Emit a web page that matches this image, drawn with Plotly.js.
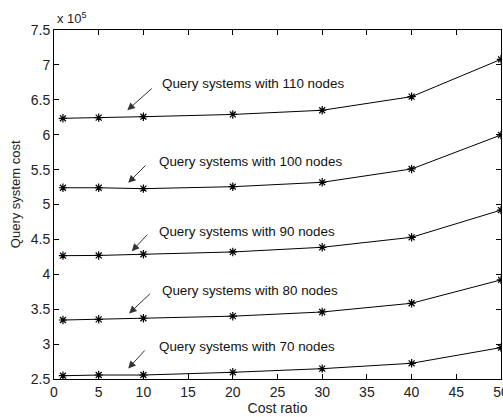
<!DOCTYPE html>
<html>
<head>
<meta charset="utf-8">
<script src="https://cdn.plot.ly/plotly-3.0.1.min.js"></script>
<style>html,body{margin:0;padding:0;background:#fff;overflow:hidden;}#chart{width:503px;height:417px;}</style>
</head>
<body>
<div id="chart"></div>
<script>
// Cost ratio (x) values
const costRatio = [1, 5, 10, 20, 30, 40, 50];
// Query system cost, in units of 10^5
const nodes110 = [6.235, 6.244, 6.258, 6.29, 6.35, 6.545, 7.08];
const nodes100 = [5.24, 5.24, 5.227, 5.255, 5.318, 5.509, 5.996];
const nodes90  = [4.267, 4.27, 4.287, 4.32, 4.387, 4.53, 4.92];
const nodes80  = [3.345, 3.355, 3.37, 3.40, 3.46, 3.585, 3.92];
const nodes70  = [2.547, 2.557, 2.557, 2.596, 2.648, 2.725, 2.95];
const seriesNames = ["110 nodes", "100 nodes", "90 nodes", "80 nodes", "70 nodes"];
const seriesData = [nodes110, nodes100, nodes90, nodes80, nodes70];
const labelTexts = [
  "Query systems with 110 nodes",
  "Query systems with 100 nodes",
  "Query systems with 90 nodes",
  "Query systems with 80 nodes",
  "Query systems with 70 nodes"
];
const xTickVals = [0, 5, 10, 15, 20, 25, 30, 35, 40, 45, 50];
const yTickVals = [2.5, 3, 3.5, 4, 4.5, 5, 5.5, 6, 6.5, 7, 7.5];
const yTickText = ['2.5', '3', '3.5', '4', '4.5', '5', '5.5', '6', '6.5', '7', '7.5'];
// annotation anchor points in data units: [textX, textY, arrowTailX, arrowTailY, arrowHeadX, arrowHeadY]
const labelPos = [
  [11.9, 6.74, 11.1, 6.68, 8.2, 6.35],
  [11.5, 5.61, 10.4, 5.58, 8.3, 5.31],
  [11.5, 4.62, 10.6, 4.59, 8.7, 4.33],
  [11.9, 3.77, 10.9, 3.74, 8.4, 3.44],
  [11.5, 2.96, 10.3, 2.93, 8.3, 2.65]
];

const fontFam = '"Liberation Sans", Arial, sans-serif';
const traces = seriesData.map((ys, i) => ({
  type: 'scatter', mode: 'lines+markers', name: seriesNames[i],
  x: costRatio, y: ys,
  line: {color: '#000', width: 1},
  marker: {symbol: 'asterisk-open', size: 7, color: '#000', line: {color: '#000', width: 1.2}},
  showlegend: false, hoverinfo: 'skip'
}));

const annotations = [];
labelPos.forEach((p, i) => {
  annotations.push({
    x: p[0], y: p[1], xref: 'x', yref: 'y', text: labelTexts[i], showarrow: false,
    xanchor: 'left', yanchor: 'middle', font: {family: fontFam, size: 13.4, color: '#111'}
  });
  annotations.push({
    x: p[4], y: p[5], xref: 'x', yref: 'y', ax: p[2], ay: p[3], axref: 'x', ayref: 'y',
    text: '', showarrow: true, arrowhead: 2, arrowsize: 1.5, arrowwidth: 1, arrowcolor: '#333'
  });
});
annotations.push({
  x: 0, y: 1, xref: 'paper', yref: 'paper', xanchor: 'left', yanchor: 'bottom', yshift: 2, xshift: 1,
  text: 'x 10<sup>5</sup>', showarrow: false, font: {family: fontFam, size: 13, color: '#222'}
});
// y-axis title
annotations.push({
  x: -0.087, y: 0.53, xref: 'paper', yref: 'paper', xanchor: 'center', yanchor: 'middle',
  text: 'Query system cost', textangle: -90, showarrow: false,
  font: {family: fontFam, size: 13, color: '#222'}
});

const axisCommon = {
  showgrid: false, zeroline: false, showline: true, linecolor: '#000', linewidth: 1,
  mirror: 'ticks', ticks: 'inside', ticklen: 5, tickcolor: '#000', tickwidth: 1,
  ticklabeloverflow: 'allow',
  tickfont: {family: fontFam, size: 14, color: '#222'}
};

const layout = {
  width: 503, height: 417,
  margin: {l: 54, r: 2, t: 30, b: 38},
  paper_bgcolor: '#fff', plot_bgcolor: '#fff',
  font: {family: fontFam},
  xaxis: Object.assign({}, axisCommon, {
    range: [0, 50], tickmode: 'array', tickvals: xTickVals,
    title: {text: 'Cost ratio', font: {family: fontFam, size: 14, color: '#222'}, standoff: 1}
  }),
  yaxis: Object.assign({}, axisCommon, {
    range: [2.5, 7.5], tickmode: 'array', tickvals: yTickVals, ticktext: yTickText
  }),
  annotations: annotations
};

Plotly.newPlot('chart', traces, layout, {displayModeBar: false, staticPlot: true});
</script>
</body>
</html>
